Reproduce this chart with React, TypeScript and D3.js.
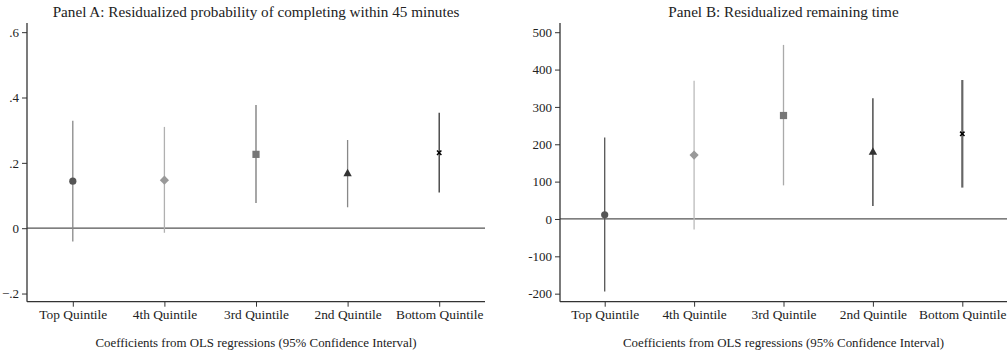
import { useEffect, useRef } from "react";
import * as d3 from "d3";

const categories = ["Top Quintile", "4th Quintile", "3rd Quintile", "2nd Quintile", "Bottom Quintile"];
const markers = ["circle", "diamond", "square", "triangle", "cross"];

// Panel A
const probCoef = [0.144, 0.147, 0.226, 0.168, 0.231];
const probLow = [-0.041, -0.014, 0.077, 0.064, 0.109];
const probHigh = [0.329, 0.31, 0.377, 0.27, 0.353];
const probTicks = [-0.2, 0, 0.2, 0.4, 0.6];

// Panel B
const timeCoef = [11, 171, 277, 180, 228];
const timeLow = [-194, -28, 90, 35, 84];
const timeHigh = [218, 370, 466, 323, 372];
const timeTicks = [-200, -100, 0, 100, 200, 300, 400, 500];

const FONT = "Liberation Serif";
const TOP = 24;
const BOTTOM = 301.7;

type PanelProps = {
  title: string;
  left: number;
  right: number;
  domain: [number, number];
  ticks: number[];
  tickFmt: (d: number) => string;
  coef: number[];
  low: number[];
  high: number[];
  lineColors: string[];
  markColors: string[];
  lineWidths: number[];
};

const Panel = (p: PanelProps) => {
  const ref = useRef<SVGGElement>(null);
  const x = d3.scaleLinear().domain([0.5, 5.5]).range([p.left, p.right]);
  const y = d3.scaleLinear().domain(p.domain).range([BOTTOM, TOP]);

  useEffect(() => {
    const g = d3.select(ref.current);
    g.selectAll("*").remove();

    const yAxis = d3.axisLeft(y).tickValues(p.ticks).tickFormat((d) => p.tickFmt(d as number)).tickSize(5).tickPadding(3);
    const ya = g.append("g").attr("transform", `translate(${p.left},0)`).call(yAxis);
    ya.attr("font-family", FONT).attr("font-size", 13);
    const xAxis = d3.axisBottom(x).tickValues([1, 2, 3, 4, 5]).tickFormat((d) => categories[(d as number) - 1]).tickSize(5).tickPadding(3);
    const xa = g.append("g").attr("transform", `translate(0,${BOTTOM})`).call(xAxis);
    xa.attr("font-family", FONT).attr("font-size", 13.4);
    [ya, xa].forEach((a) => {
      a.select(".domain").remove();
      a.selectAll(".tick line").attr("stroke", "#333");
      a.selectAll(".tick text").attr("fill", "#222");
    });
    g.append("line").attr("x1", p.left).attr("x2", p.left).attr("y1", TOP - 1).attr("y2", BOTTOM).attr("stroke", "#333").attr("stroke-width", 1.3);
    g.append("line").attr("x1", p.left).attr("x2", p.right).attr("y1", BOTTOM).attr("y2", BOTTOM).attr("stroke", "#333").attr("stroke-width", 1.3);
  }, [p]);

  const mid = (p.left + p.right) / 2;

  return (
    <g>
      <text x={mid} y={17.3} textAnchor="middle" fontFamily={FONT} fontSize={15.2} fill="#222">
        {p.title}
      </text>
      <line x1={p.left} x2={p.right} y1={y(0)} y2={y(0)} stroke="#555" strokeWidth={1.3} />
      {categories.map((c, i) => {
        const cx = x(i + 1);
        const cy = y(p.coef[i]);
        const col = p.markColors[i];
        let mark;
        if (markers[i] === "circle") mark = <circle cx={cx} cy={cy} r={3.6} fill={col} />;
        else if (markers[i] === "diamond") mark = <path d={`M${cx},${cy - 4.6}L${cx + 4.6},${cy}L${cx},${cy + 4.6}L${cx - 4.6},${cy}Z`} fill={col} />;
        else if (markers[i] === "square") mark = <rect x={cx - 3.6} y={cy - 3.6} width={7.2} height={7.2} fill={col} />;
        else if (markers[i] === "triangle") mark = <path d={`M${cx},${cy - 4.5}L${cx + 4.2},${cy + 3}L${cx - 4.2},${cy + 3}Z`} fill={col} />;
        else
          mark = (
            <path d={`M${cx - 2.2},${cy - 2.2}L${cx + 2.2},${cy + 2.2}M${cx + 2.2},${cy - 2.2}L${cx - 2.2},${cy + 2.2}`} stroke={col} strokeWidth={1.5} />
          );
        return (
          <g key={c}>
            <line x1={cx} x2={cx} y1={y(p.low[i])} y2={y(p.high[i])} stroke={p.lineColors[i]} strokeWidth={p.lineWidths[i]} />
            {mark}
          </g>
        );
      })}
      <g ref={ref} />
      <text x={mid} y={346.5} textAnchor="middle" fontFamily={FONT} fontSize={12.9} fill="#222">
        Coefficients from OLS regressions (95% Confidence Interval)
      </text>
    </g>
  );
};

const fmtProb = (d: number) => (d === 0 ? "0" : d3.format(".1f")(d).replace("0.", "."));

export default function App() {
  return (
    <svg width={1007} height={356} style={{ position: "absolute", left: 0, top: 0, background: "#fff" }}>
      <rect width={1007} height={356} fill="#fff" />
      <Panel
        title="Panel A: Residualized probability of completing within 45 minutes"
        left={27}
        right={485}
        domain={[-0.225, 0.625]}
        ticks={probTicks}
        tickFmt={fmtProb}
        coef={probCoef}
        low={probLow}
        high={probHigh}
        lineColors={["#888", "#b0b0b0", "#777", "#888", "#333"]}
        markColors={["#555", "#999", "#777", "#333", "#000"]}
        lineWidths={[1.3, 1.3, 1.3, 1.3, 1.3]}
      />
      <Panel
        title="Panel B: Residualized remaining time"
        left={560}
        right={1007}
        domain={[-221.5, 522]}
        ticks={timeTicks}
        tickFmt={(d) => String(d)}
        coef={timeCoef}
        low={timeLow}
        high={timeHigh}
        lineColors={["#555", "#bbb", "#aaa", "#333", "#666"]}
        markColors={["#555", "#999", "#777", "#333", "#000"]}
        lineWidths={[1.3, 1.3, 1.3, 1.3, 2.2]}
      />
    </svg>
  );
}
